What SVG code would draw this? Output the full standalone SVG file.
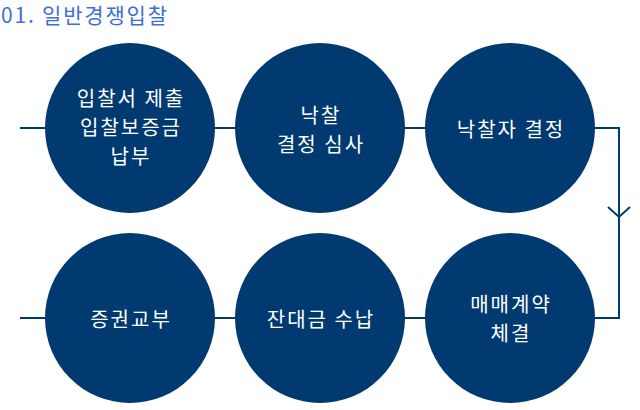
<svg xmlns="http://www.w3.org/2000/svg" width="640" height="410" viewBox="0 0 640 410">
<style>
.c{fill:#003a70}
.t{font-family:"Noto Sans CJK KR","Noto Sans",sans-serif;font-size:20px;letter-spacing:2px;fill:#ffffff;text-anchor:middle;dominant-baseline:central}
.ln{stroke:#003a70;stroke-width:2;fill:none}
.title{font-family:"Noto Sans CJK KR","Noto Sans",sans-serif;font-size:21px;letter-spacing:1.8px;fill:#3d6fd6}
</style>
<rect width="640" height="410" fill="#ffffff"/>
<text class="title" x="1" y="23">01. 일반경쟁입찰</text>
<g id="connectors">
<path class="ln" d="M20 128H45M215 128H235M405 128H425M595 128H619V318H595"/>
<path class="ln" d="M608 207L619 217L630 207"/>
<path class="ln" d="M20 318H45M215 318H235M405 318H425"/>
</g>
<g id="n1"><circle class="c" cx="130" cy="128" r="85"/>
<text class="t" x="131" y="97">입찰서 제출</text><text class="t" x="131" y="126">입찰보증금</text><text class="t" x="131" y="155">납부</text></g>
<g id="n2"><circle class="c" cx="320" cy="128" r="85"/>
<text class="t" x="321" y="114">낙찰</text><text class="t" x="321" y="143">결정 심사</text></g>
<g id="n3"><circle class="c" cx="510" cy="128" r="85"/>
<text class="t" x="511" y="128">낙찰자 결정</text></g>
<g id="n4"><circle class="c" cx="510" cy="318" r="85"/>
<text class="t" x="511" y="303">매매계약</text><text class="t" x="511" y="332">체결</text></g>
<g id="n5"><circle class="c" cx="320" cy="318" r="85"/>
<text class="t" x="321" y="318">잔대금 수납</text></g>
<g id="n6"><circle class="c" cx="130" cy="318" r="85"/>
<text class="t" x="131" y="318">증권교부</text></g>
</svg>
